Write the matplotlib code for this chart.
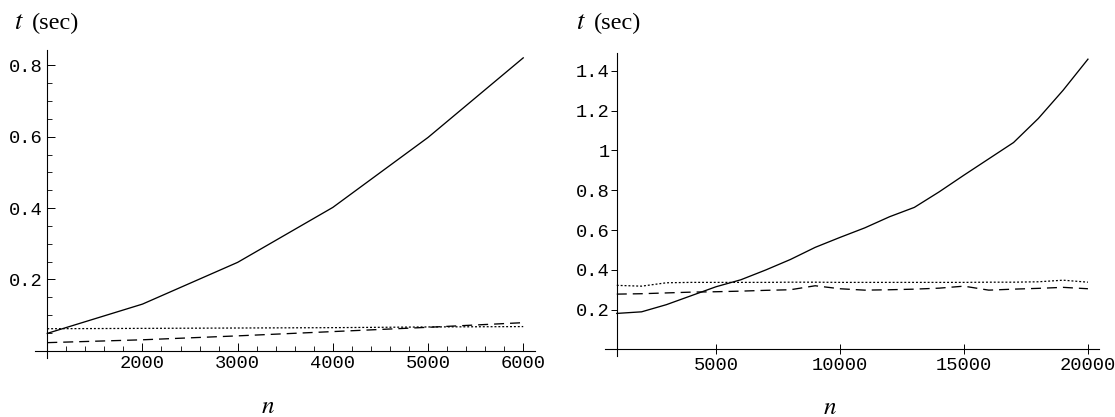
import matplotlib
matplotlib.use("Agg")
import matplotlib.pyplot as plt
from matplotlib.ticker import FixedLocator, FuncFormatter

plt.rcParams["lines.scale_dashes"] = False

# small problem sizes
n_small = [1000, 2000, 3000, 4000, 5000, 6000]
t_small_solid = [0.049, 0.131, 0.248, 0.402, 0.598, 0.821]
t_small_dotted = [0.062, 0.063, 0.064, 0.065, 0.067, 0.068]
t_small_dashed = [0.023, 0.031, 0.042, 0.054, 0.066, 0.079]

# large problem sizes
n_large = [1000, 2000, 3000, 4000, 5000, 6000, 7000, 8000, 9000, 10000,
           11000, 12000, 13000, 14000, 15000, 16000, 17000, 18000, 19000, 20000]
t_large_solid = [0.181, 0.189, 0.225, 0.270, 0.315, 0.350, 0.399, 0.452, 0.513, 0.563,
                 0.611, 0.667, 0.714, 0.792, 0.876, 0.958, 1.040, 1.161, 1.303, 1.459]
t_large_dotted = [0.322, 0.318, 0.335, 0.337, 0.337, 0.337, 0.337, 0.338, 0.338, 0.337,
                  0.337, 0.337, 0.337, 0.337, 0.337, 0.338, 0.338, 0.340, 0.348, 0.338]
t_large_dashed = [0.278, 0.280, 0.284, 0.288, 0.290, 0.293, 0.297, 0.300, 0.320, 0.305,
                  0.298, 0.300, 0.303, 0.308, 0.318, 0.298, 0.303, 0.307, 0.312, 0.305]

left_xticks = [2000, 3000, 4000, 5000, 6000]
left_yticks = [0.2, 0.4, 0.6, 0.8]
right_xticks = [5000, 10000, 15000, 20000]
right_yticks = [0.2, 0.4, 0.6, 0.8, 1.0, 1.2, 1.4]

mono = "Liberation Mono"
serif = "Liberation Serif"
DOT = (0, (1.4, 1.4))
DASH = (0, (7.2, 4.3))


def fmt_y(v, pos):
    return "%g" % round(v, 2)


def style_axes(ax):
    for side in ("top", "right"):
        ax.spines[side].set_visible(False)
    ax.spines["left"].set_position(("data", 1000))
    ax.spines["bottom"].set_position(("data", 0))
    for side in ("left", "bottom"):
        ax.spines[side].set_linewidth(0.8)
    ax.yaxis.set_major_formatter(FuncFormatter(fmt_y))
    ax.tick_params(labelsize=13.5, width=0.7, colors="black")
    ax.patch.set_visible(False)


fig = plt.figure(figsize=(11.15, 4.17), dpi=100)

# left panel
ax1 = fig.add_axes([0.0318, 0.1415, 0.4477, 0.7377])
ax1.plot(n_small, t_small_solid, color="black", lw=0.95)
ax1.plot(n_small, t_small_dotted, color="black", lw=0.9, linestyle=DOT)
ax1.plot(n_small, t_small_dashed, color="black", lw=0.95, linestyle=DASH)
ax1.set_xlim(876, 6120)
ax1.set_ylim(-0.02, 0.842)
ax1.xaxis.set_major_locator(FixedLocator(left_xticks))
ax1.yaxis.set_major_locator(FixedLocator(left_yticks))
ax1.xaxis.set_minor_locator(FixedLocator([v for v in range(1200, 6001, 200) if v % 1000]))
ax1.yaxis.set_minor_locator(FixedLocator([0.05, 0.1, 0.15, 0.25, 0.3, 0.35, 0.45,
                                          0.5, 0.55, 0.65, 0.7, 0.75]))
style_axes(ax1)
ax1.tick_params(which="major", direction="in", length=6)
ax1.tick_params(which="minor", direction="in", length=3.5, width=0.6)
ax1.tick_params(axis="x", which="major", pad=3)
ax1.tick_params(axis="y", which="major", pad=3)

# right panel
ax2 = fig.add_axes([0.543, 0.1463, 0.4429, 0.7266])
ax2.plot(n_large, t_large_solid, color="black", lw=0.95)
ax2.plot(n_large, t_large_dotted, color="black", lw=0.9, linestyle=DOT)
ax2.plot(n_large, t_large_dashed, color="black", lw=0.95, linestyle=DASH)
ax2.set_xlim(543, 20457)
ax2.set_ylim(-0.033, 1.49)
ax2.xaxis.set_major_locator(FixedLocator(right_xticks))
ax2.yaxis.set_major_locator(FixedLocator(right_yticks))
style_axes(ax2)
ax2.tick_params(axis="x", direction="inout", length=7, pad=2)
ax2.tick_params(axis="y", direction="out", length=4, pad=1)

for ax in (ax1, ax2):
    for lab in ax.get_xticklabels() + ax.get_yticklabels():
        lab.set_fontfamily(mono)

# axis titles
for x0 in (14 / 1115, 576 / 1115):
    fig.text(x0, 1 - 29 / 417, "$t$", fontsize=19, math_fontfamily="stix",
             va="baseline")
    fig.text(x0 + 18 / 1115, 1 - 29 / 417, "(sec)", fontsize=17.5, family=serif,
             va="baseline")
fig.text(268 / 1115, 1 - 413 / 417, "$n$", fontsize=18, math_fontfamily="stix",
         ha="center", va="baseline")
fig.text(830 / 1115, 1 - 414 / 417, "$n$", fontsize=18, math_fontfamily="stix",
         ha="center", va="baseline")

fig.savefig("out.png", dpi=100)
